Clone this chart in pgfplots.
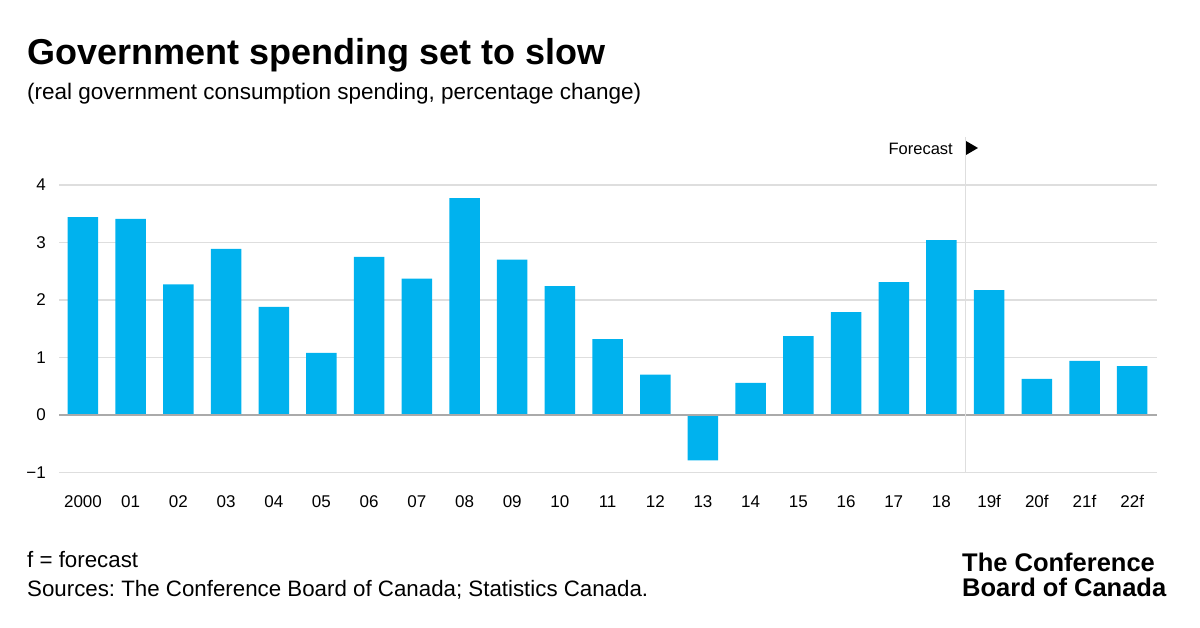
\documentclass[border=0pt]{standalone}
\usepackage{pgfplots}
\pgfplotsset{compat=1.18}
\usepackage{fontspec}
\setmainfont{Liberation Sans}
\frenchspacing
\definecolor{barblue}{RGB}{0,178,238}
\definecolor{gridgray}{RGB}{222,222,222}
\definecolor{zerogray}{RGB}{170,170,170}
\pgfplotstableread{
x y
0 3.44
1 3.41
2 2.27
3 2.89
4 1.88
5 1.08
6 2.75
7 2.37
8 3.77
9 2.70
10 2.24
11 1.32
12 0.70
13 -0.79
14 0.56
15 1.37
16 1.79
17 2.31
18 3.04
19 2.17
20 0.63
21 0.94
22 0.85
}\spending
\begin{document}
\begin{tikzpicture}[x=1pt,y=1pt]
\path[use as bounding box] (0,0) rectangle (1200,628);
\begin{axis}[
  at={(59pt,155.5pt)}, anchor=south west,
  scale only axis, width=1098pt, height=287.5pt,
  xmin=-0.503, xmax=22.52, ymin=-1, ymax=4,
  axis line style={draw=none},
  major tick length=0pt,
  ytick={-1,0,1,2,3,4},
  yticklabels={−1,0,1,2,3,4},
  xtick={0,...,22},
  xticklabels={2000,01,02,03,04,05,06,07,08,09,10,11,12,13,14,15,16,17,18,19f,20f,21f,22f},
  ymajorgrids, grid style={gridgray, line width=1.2pt},
  yticklabel style={font=\fontsize{17}{20}\selectfont, anchor=east, inner sep=0pt, xshift=-13pt},
  xticklabel style={font=\fontsize{17}{20}\selectfont, anchor=base, inner sep=0pt, yshift=-35.5pt},
  clip=false,
]
\addplot[ybar, bar width=30.5pt, fill=barblue, draw=none] table[x=x,y=y] {\spending};
\draw[zerogray, line width=1.2pt] (axis cs:-0.503,0) -- (axis cs:22.52,0);
\draw[gridgray, line width=1.2pt] (axis cs:18.51,-1) -- (axis cs:18.51,4.83);
\end{axis}
\node[anchor=base west, inner sep=0, font=\fontsize{36}{40}\selectfont\bfseries] at (27,563) {Government spending set to slow};
\node[anchor=base west, inner sep=0, font=\fontsize{22.5}{26}\selectfont] at (27,528) {(real government consumption spending, percentage change)};
\node[anchor=base east, inner sep=0, font=\fontsize{16.5}{20}\selectfont] at (953,473) {Forecast};
\fill (966,487) -- (978,480) -- (966,473) -- cycle;
\node[anchor=base west, inner sep=0, font=\fontsize{22.3}{25}\selectfont] at (27,60) {f = forecast};
\node[anchor=base west, inner sep=0, font=\fontsize{22.3}{25}\selectfont] at (27,31) {Sources: The Conference Board of Canada; Statistics Canada.};
\node[anchor=base west, inner sep=0, font=\fontsize{25.5}{25}\selectfont\bfseries] at (962,56) {The Conference};
\node[anchor=base west, inner sep=0, font=\fontsize{25.5}{25}\selectfont\bfseries] at (962,31) {Board of Canada};
\end{tikzpicture}
\end{document}
